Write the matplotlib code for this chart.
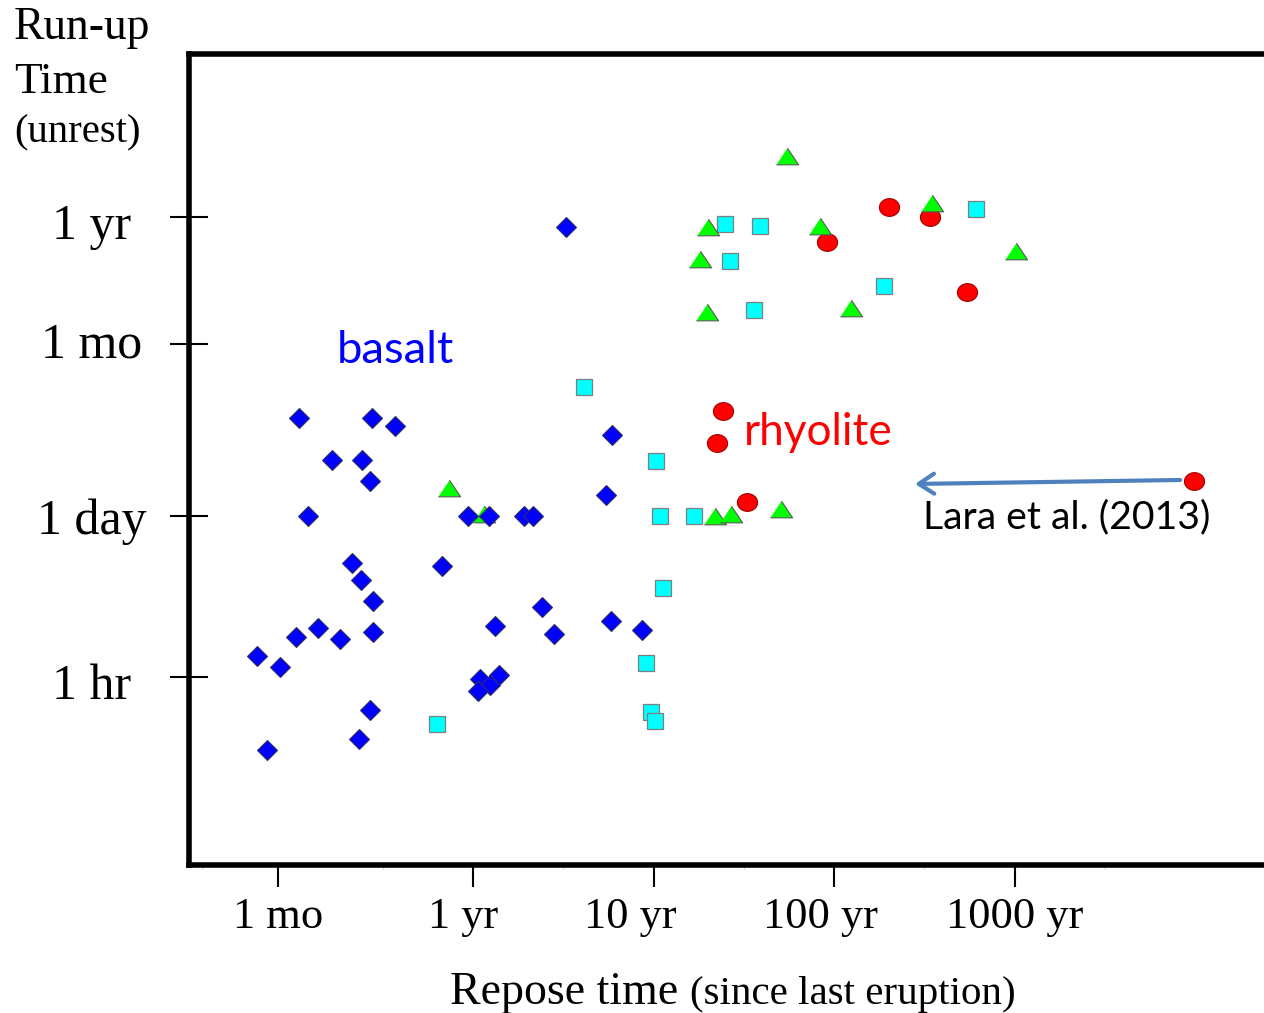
import numpy as np
import matplotlib.pyplot as plt
from matplotlib.ticker import NullFormatter, NullLocator
from matplotlib.transforms import ScaledTranslation

# repose time in years, run-up time in hours
basalt_repose = [0.109, 0.275, 0.370, 0.166, 0.243, 0.268, 0.122, 3.27, 5.91, 5.48,
                 0.944, 1.23, 1.92, 2.15, 0.214, 0.241, 0.280, 0.673, 0.138, 0.104,
                 0.184, 0.280, 0.0636, 0.0853, 2.42, 2.80, 1.33, 5.82, 8.64, 0.270,
                 0.233, 0.072, 1.09, 1.39, 1.24, 1.07]
basalt_runup = [168, 168, 143, 72, 72, 48, 24, 7260, 120, 36,
                24, 24, 24, 24, 9.4, 6.8, 4.5, 9.0, 2.64, 2.21,
                2.10, 2.44, 1.51, 1.21, 4.0, 2.34, 2.75, 3.0, 2.5, 0.52,
                0.29, 0.235, 0.96, 1.03, 0.85, 0.76]

# cyan squares (andesite)
andesite_repose = [4.12, 10.3, 10.8, 16.7, 11.3, 9.03, 9.71, 10.2, 0.634, 25.0,
                   39.1, 26.4, 36.2, 189, 612]
andesite_runup = [309, 71.6, 24, 24, 5.75, 1.32, 0.50, 0.42, 0.39, 7660,
                  7450, 3710, 1410, 2250, 10300]

# green triangles (dacite)
dacite_repose = [0.734, 1.15, 21.9, 26.9, 50.7, 55.1, 349, 20.0, 83.6, 1019,
                 18.1, 19.7, 124]
dacite_runup = [41.6, 25.0, 24, 25.0, 27.7, 29700, 11600, 7220, 7400, 4520,
                3860, 1360, 1456]

rhyolite_repose = [24.4, 22.6, 33.0, 201, 340, 91.8, 548, 9870]
rhyolite_runup = [191, 101, 31.8, 10720, 8790, 5430, 2000, 47.9]

x_ticks = [1 / 12, 1, 10, 100, 1000]
x_labels = ['1 mo', '1 yr', '10 yr', '100 yr', '1000 yr']
x_minor = [10 ** (k + 0.5) for k in range(-2, 4)]
y_ticks = [1, 24, 720, 8760]
y_labels = ['1 hr', '1 day', '1 mo', '1 yr']

plt.rcParams['font.family'] = 'Liberation Serif'
sans = 'Lato'

fig = plt.figure(figsize=(12.64, 10.13), dpi=100)
ax = fig.add_axes([0.1495, 0.1461, 0.8605, 0.8006])
ax.set_xscale('log')
ax.set_yscale('log')
ax.set_xlim(10 ** -1.5734, 10 ** 4.452)
ax.set_ylim(10 ** -1.6155, 10 ** 5.3459)

tri = [(-1, -0.75), (1, -0.75), (0, 0.75)]
t = np.linspace(0, 2 * np.pi, 60)
ell = list(zip(np.cos(t), 0.88 * np.sin(t)))

ax.plot(rhyolite_repose, rhyolite_runup, ls='none', marker=ell, ms=14.5,
        mfc='#ff0000', mec='#a00000', mew=0.8)
ax.plot(andesite_repose, andesite_runup, ls='none', marker='s', ms=11,
        mfc='#00ffff', mec='#7f7f7f', mew=0.9)
ax.plot(dacite_repose, dacite_runup, ls='none', marker=tri, ms=16,
        mfc='#00ff00', mec='#5a5a5a', mew=0.8)
ax.plot(basalt_repose, basalt_runup, ls='none', marker='D', ms=10.4,
        mfc='#0000ff', mec='#303060', mew=0.8)

ax.set_xticks(x_ticks, x_labels)
ax.set_xticks(x_minor, minor=True)
ax.xaxis.set_minor_formatter(NullFormatter())
ax.set_yticks(y_ticks, y_labels)
ax.yaxis.set_minor_locator(NullLocator())

ax.tick_params(axis='y', which='major', direction='inout', length=28, width=1.5,
               labelsize=36, pad=56)
ax.tick_params(axis='x', which='major', direction='out', length=16, width=1.5,
               labelsize=32, pad=7)
ax.tick_params(axis='x', which='minor', direction='out', length=3, width=1,
               color='#d0d0d0')
plt.setp(ax.get_yticklabels(), ha='center')

# small shifts so the labels sit where they do in the original
x_shift = [0, -7, -17, -10, 0]
for lab, dx in zip(ax.get_xticklabels(), x_shift):
    lab.set_transform(lab.get_transform() + ScaledTranslation(dx / 72, 0, fig.dpi_scale_trans))
y_shift = [-3, 0, 3, -3]
for lab, dy in zip(ax.get_yticklabels(), y_shift):
    lab.set_transform(lab.get_transform() + ScaledTranslation(0, dy / 72, fig.dpi_scale_trans))

for side in ['left', 'top', 'bottom']:
    ax.spines[side].set_linewidth(4)
ax.spines['right'].set_visible(False)

ax.text(0.1764, 638, 'basalt', color='#0000ff', fontsize=32.6, family=sans,
        va='center', ha='left')
ax.text(31.7, 126, 'rhyolite', color='#ff0000', fontsize=31.8, family=sans,
        va='center', ha='left')
ax.text(311, 23.2, 'Lara et al. (2013)', color='black', fontsize=28.3, family=sans,
        va='center', ha='left')
ax.annotate('', xy=(281, 45.2), xytext=(8260, 48.9),
            arrowprops=dict(arrowstyle='->,head_length=0.55,head_width=0.36',
                            color='#4f81bd', lw=3, shrinkA=0, shrinkB=0,
                            mutation_scale=20))

fig.text(14 / 1264, 1 - 39 / 1013, 'Run-up', fontsize=32.8, va='baseline')
fig.text(14 / 1264, 1 - 93 / 1013, 'Time', fontsize=32.5, va='baseline')
fig.text(14 / 1264, 1 - 142 / 1013, '(unrest)', fontsize=29.3, va='baseline')
fig.text(450 / 1264, 1 - 1004 / 1013, 'Repose time', fontsize=33, va='baseline')
fig.text(690 / 1264, 1 - 1004 / 1013, '(since last eruption)', fontsize=29.5,
         va='baseline')

fig.savefig('out.png', dpi=100)
